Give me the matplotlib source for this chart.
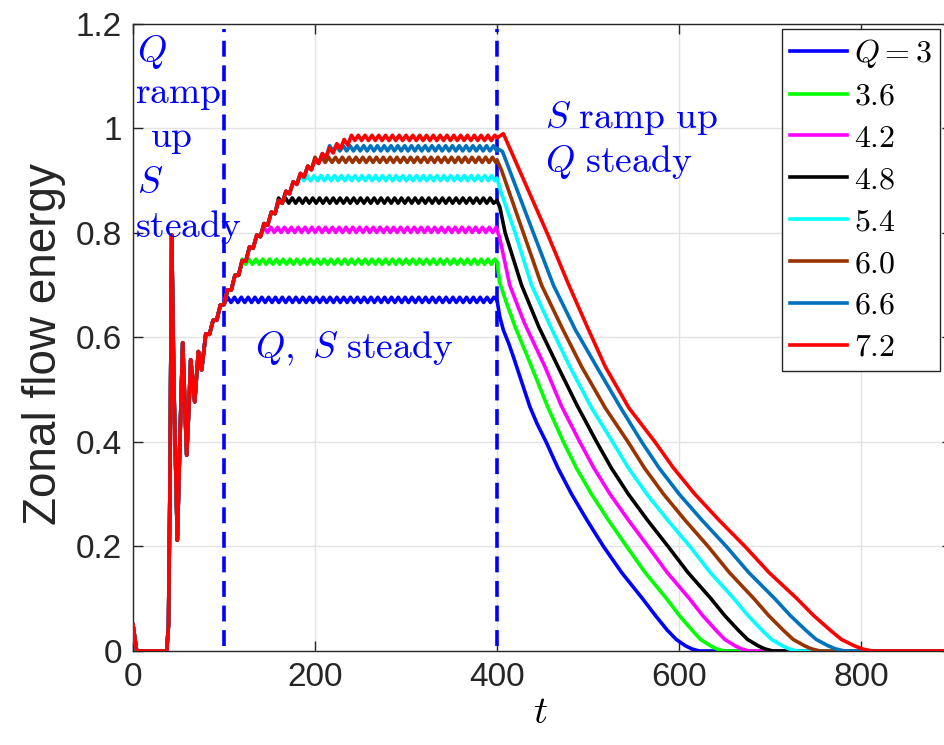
"""
Zonal flow energy vs time for several values of Q.
"""

# ---------------------------------------------------------------------
# Libraries
# ---------------------------------------------------------------------
import numpy as np
import matplotlib
matplotlib.use("Agg")
import matplotlib.pyplot as plt

plt.rcParams["mathtext.fontset"] = "cm"
plt.rcParams["font.family"] = ["Liberation Sans", "DejaVu Sans"]

# ---------------------------------------------------------------------
# Data
# ---------------------------------------------------------------------
q_labels = [r"$Q=3$", r"$3.6$", r"$4.2$", r"$4.8$", r"$5.4$", r"$6.0$", r"$6.6$", r"$7.2$"]
colors = ["#0000ff", "#00ff00", "#ff00ff", "#000000", "#00ffff",
          "#993300", "#0072bd", "#ff0000"]

# common start-up + Q ramp (identical for all curves until they level off)
ramp_t = [0, 4, 37, 39, 40.5, 42.5, 45, 48.7, 51.5, 54.6, 57, 59, 61.5, 63.4,
          65.5, 67.8, 70, 71.8, 73.5, 75.4,
          80, 84, 88, 92, 96, 100, 104, 108, 112, 116, 120, 124, 128, 132,
          136, 140, 144, 148, 152, 156, 160, 164, 168, 172, 176, 180, 184,
          188, 192, 196, 200, 204, 208, 212, 216, 220, 224, 228, 232, 236,
          240, 244, 248, 252]
ramp_e = [0.05, 0.0, 0.0, 0.05, 0.30, 0.796, 0.50, 0.212, 0.40, 0.59, 0.47,
          0.375, 0.47, 0.557, 0.52, 0.477, 0.53, 0.573, 0.555, 0.538,
          0.607, 0.606, 0.633, 0.633, 0.662, 0.663, 0.691, 0.691, 0.719,
          0.719, 0.747, 0.746, 0.773, 0.771, 0.796, 0.793, 0.818, 0.815,
          0.840, 0.837, 0.862, 0.857, 0.880, 0.875, 0.898, 0.893, 0.914,
          0.907, 0.928, 0.921, 0.941, 0.933, 0.952, 0.944, 0.963, 0.953,
          0.971, 0.961, 0.979, 0.968, 0.985, 0.974, 0.990, 0.978]
ramp_settled = 76   # after the start-up burst

# steady (Q, S steady) level of every curve and its small ripple
plateau_level = [0.672, 0.745, 0.806, 0.862, 0.905, 0.940, 0.962, 0.982]
ripple = [0.005, -0.005]
ripple_step = 3.75

# decay after t = 400 (S ramp up)
decay_t = [
    [400, 403, 407, 413, 418, 421.6, 436, 444, 454, 467, 482, 499, 517, 537,
     560, 574, 587, 597, 607, 614, 622, 900],
    [400, 403, 410, 420, 438, 455, 473, 487.3, 503.9, 522.6, 542.5, 562.8,
     586.4, 600.3, 614.2, 623.8, 634.5, 641.4, 649.5, 900],
    [400, 403, 414, 430, 452.7, 471, 491, 506.5, 524.3, 544.6, 566, 587.1,
     611.5, 625.9, 640.4, 650.4, 661.5, 668.6, 677, 900],
    [400, 403, 409, 427, 446, 467, 488, 509.5, 525.7, 544.4, 565.5, 588,
     609.9, 635.2, 650.1, 665, 675.4, 686.9, 694.3, 703, 900],
    [400, 404, 420, 438, 459, 480, 504, 527, 544.5, 564.7, 587.7, 612,
     634.4, 660.4, 675.7, 691.1, 701.7, 713.5, 721, 730, 900],
    [400, 405, 429, 449, 471, 493, 519, 544, 562.1, 583.1, 606.8, 632,
     655.4, 682.4, 698.4, 714.4, 725.5, 737.8, 745.7, 755, 900],
    [400, 406, 440, 462, 486, 509.5, 535, 559, 578.2, 600.3, 625.4, 652,
     676.7, 705.3, 722.2, 739.1, 750.8, 763.8, 772.1, 782, 900],
    [400, 407, 455, 479, 500, 519, 545, 573.6, 594, 617.5, 644.2, 672.5,
     699, 729.7, 747.8, 766, 778.5, 792.5, 801.4, 812, 900],
]
decay_e = [
    [0.672, 0.640, 0.614, 0.588, 0.563, 0.544, 0.468, 0.435, 0.40, 0.35, 0.30,
     0.25, 0.20, 0.15, 0.10, 0.068, 0.04, 0.022, 0.01, 0.004, 0, 0],
    [0.745, 0.705, 0.668, 0.620, 0.544, 0.470, 0.40, 0.35, 0.30, 0.25, 0.20,
     0.15, 0.10, 0.068, 0.04, 0.022, 0.01, 0.004, 0, 0],
    [0.806, 0.790, 0.700, 0.628, 0.544, 0.468, 0.40, 0.35, 0.30, 0.25, 0.20,
     0.15, 0.10, 0.068, 0.04, 0.022, 0.01, 0.004, 0, 0],
    [0.862, 0.850, 0.800, 0.700, 0.620, 0.544, 0.470, 0.40, 0.35, 0.30, 0.25,
     0.20, 0.15, 0.10, 0.068, 0.04, 0.022, 0.01, 0.004, 0, 0],
    [0.905, 0.880, 0.800, 0.700, 0.620, 0.544, 0.465, 0.40, 0.35, 0.30, 0.25,
     0.20, 0.15, 0.10, 0.068, 0.04, 0.022, 0.01, 0.004, 0, 0],
    [0.940, 0.920, 0.800, 0.700, 0.620, 0.544, 0.465, 0.40, 0.35, 0.30, 0.25,
     0.20, 0.15, 0.10, 0.068, 0.04, 0.022, 0.01, 0.004, 0, 0],
    [0.962, 0.956, 0.800, 0.700, 0.615, 0.544, 0.468, 0.40, 0.35, 0.30, 0.25,
     0.20, 0.15, 0.10, 0.068, 0.04, 0.022, 0.01, 0.004, 0, 0],
    [0.982, 0.990, 0.800, 0.700, 0.617, 0.544, 0.465, 0.40, 0.35, 0.30, 0.25,
     0.20, 0.15, 0.10, 0.068, 0.04, 0.022, 0.01, 0.004, 0, 0],
]

x_ticks = [0, 200, 400, 600, 800]
y_ticks = [0, 0.2, 0.4, 0.6, 0.8, 1.0, 1.2]
y_ticklabels = ["0", "0.2", "0.4", "0.6", "0.8", "1", "1.2"]
phase_bounds = [100, 400]

# ---------------------------------------------------------------------
# Figure
# ---------------------------------------------------------------------
fig = plt.figure(figsize=(9.44, 7.45), dpi=100)
ax = fig.add_axes([0.1409, 0.1262, 0.8676, 0.8416])

ax.grid(True, color="#e3e3e3", linewidth=1.0, zorder=0)
ax.set_axisbelow(True)

for xb in phase_bounds:
    ax.plot([xb, xb], [0.01, 1.19], color="#0000ff", linewidth=2.6,
            dashes=(4.4, 2.4), zorder=1)

rt = np.array(ramp_t)
re = np.array(ramp_e)
handles = []
for i in range(len(plateau_level)):
    level = plateau_level[i]
    below = (re < level) | (rt < ramp_settled)
    cut = np.argmin(below) if not below.all() else len(re)
    t_up = rt[:cut]
    e_up = re[:cut]
    t0 = rt[cut] if cut < len(rt) else rt[-1]
    t_flat = np.arange(t0, 400, ripple_step)
    e_flat = level + np.resize(ripple, len(t_flat))
    t_all = np.concatenate([t_up, t_flat, decay_t[i]])
    e_all = np.concatenate([e_up, e_flat, decay_e[i]])
    h, = ax.plot(t_all, e_all, color=colors[i], linewidth=2.6,
                 label=q_labels[i], zorder=2 + i)
    handles.append(h)

ax.set_xlim(0, 900)
ax.set_ylim(0, 1.2)
ax.set_xticks(x_ticks)
ax.set_xticklabels([str(v) for v in x_ticks])
ax.set_yticks(y_ticks)
ax.set_yticklabels(y_ticklabels)
ax.tick_params(direction="in", length=7, width=1, colors="#262626",
               labelsize=24, top=True, right=True, pad=8)
for s in ax.spines.values():
    s.set_color("#262626")
    s.set_linewidth(1.0)

ax.set_ylabel("Zonal flow energy", fontsize=33, color="#262626")
ax.yaxis.set_label_coords(-0.082, 0.49)
ax.set_xlabel(r"$t$", fontsize=28)
ax.xaxis.set_label_coords(0.498, -0.07)

# phase annotations
txt = dict(color="#0000ff", fontsize=27, ha="left", va="baseline", zorder=20)
ax.text(4.4, 1.127, r"$Q$", **txt)
ax.text(2.2, 1.049, r"$\mathrm{ramp}$", **txt)
ax.text(18.7, 0.965, r"$\mathrm{up}$", **txt)
ax.text(4.4, 0.876, r"$S$", **txt)
ax.text(2.2, 0.792, r"$\mathrm{steady}$", **txt)
ax.text(452.7, 1.001, r"$S\ \mathrm{ramp\ up}$", **txt)
ax.text(452.7, 0.917, r"$Q\ \mathrm{steady}$", **txt)
ax.text(134, 0.561, r"$Q,\ S\ \mathrm{steady}$", **txt)

leg = ax.legend(handles=handles, loc="upper left",
                bbox_to_anchor=(782 / 944, 1 - 29 / 745),
                bbox_transform=fig.transFigure, fontsize=23,
                frameon=True, fancybox=False, framealpha=1,
                edgecolor="#262626", borderpad=0.25, labelspacing=0.37,
                handlelength=1.8, handletextpad=0.2, borderaxespad=0)
leg.get_frame().set_linewidth(1.0)
leg.set_zorder(30)

fig.savefig("out.png", dpi=100)
